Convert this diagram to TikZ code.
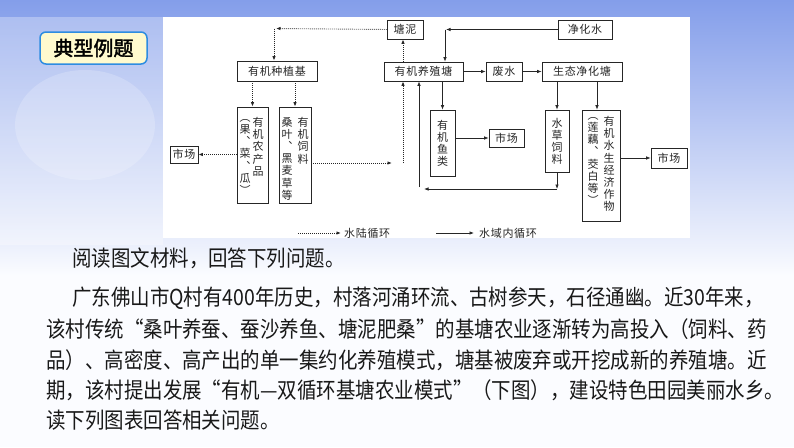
\documentclass[tikz,border=0pt]{standalone}
\usepackage{fontspec}
\usepackage{tikz}
\usetikzlibrary{arrows.meta}
\setmainfont{Noto Sans CJK SC}
\newfontfamily\bodyfont{Noto Sans CJK SC}[FakeStretch=0.885]
\newfontfamily\titlefont{Noto Sans CJK SC}[FakeBold=2]
\newfontfamily\boxfont{Noto Sans CJK SC}[LetterSpace=6]
\definecolor{skyTop}{RGB}{132,158,234}
\definecolor{skyLow}{RGB}{236,240,252}
\definecolor{paperWhite}{RGB}{251,252,255}
\definecolor{titleFill}{RGB}{255,250,206}
\definecolor{titleLine}{RGB}{45,140,225}
\definecolor{inkBlack}{RGB}{25,25,25}

\begin{document}
\begin{tikzpicture}[x=1pt, y=-1pt,
  box/.style={draw=black!85, line width=0.7pt, inner sep=0pt, align=center, font=\boxfont\fontsize{11}{12}\selectfont, text=black!85},
  vcol/.style={inner sep=0pt, align=center, anchor=north, font=\fontsize{11}{12.2}\selectfont, text=black!85},
  sarr/.style={-{Latex[length=4.5pt,width=3.5pt]}, line width=0.7pt, black!85},
  darr/.style={-{Latex[length=4.5pt,width=3.5pt]}, line width=0.9pt, dash pattern=on 0.9pt off 1.1pt, black!85},
  lab/.style={inner sep=0pt, anchor=west, font=\boxfont\fontsize{11}{12}\selectfont, text=black!85},
  txt/.style={inner sep=0pt, anchor=west, font=\bodyfont\fontsize{22}{26}\selectfont, text=inkBlack},
  titlebox/.style={draw=titleLine, line width=1.5pt, fill=titleFill, rounded corners=6pt, minimum width=107, minimum height=32, font=\titlefont\fontsize{20}{24}\selectfont}
]
  \useasboundingbox (0,0) rectangle (794,447);
  % background
  \fill[paperWhite] (0,0) rectangle (794,447);
  \shade[top color=skyTop, bottom color=skyLow] (0,0) rectangle (794,245);
  \shade[top color=skyLow, bottom color=paperWhite] (0,245) rectangle (794,275);
  \fill[white, opacity=0.3] (0,17) rectangle (163,245);
  \fill[white, opacity=0.2] (85,125) ellipse [x radius=70pt, y radius=55pt];
  \fill[white] (163,17) rectangle (690,238);

  \node[titlebox] (T) at (93.5,48) {典型例题};

  % top row
  \node[box, minimum width=36, minimum height=19] (TN) at (405,29.5) {塘泥};
  \node[box, minimum width=54, minimum height=19] (JH) at (585,29.5) {净化水};
  \node[box, minimum width=80, minimum height=20] (ZZ) at (277,71) {有机种植基};
  \node[box, minimum width=79, minimum height=19] (YZ) at (423.5,71.5) {有机养殖塘};
  \node[box, minimum width=36, minimum height=19] (FS) at (504,71.5) {废水};
  \node[box, minimum width=80, minimum height=19] (ST) at (582,71.5) {生态净化塘};

  % lower row: vertical labels
  \node[box, minimum width=31, minimum height=96] (NC) at (252.5,155) {};
  \node[vcol] at (258,117) {有\\机\\农\\产\\品};
  \node[vcol] at (245,119) {︵\\果\\︑\\菜\\︑\\瓜\\︶};
  \node[box, minimum width=32, minimum height=96] (SL) at (295,155) {};
  \node[vcol] at (303,117) {有\\机\\饲\\料};
  \node[vcol] at (287,117) {桑\\叶\\︑\\黑\\麦\\草\\等};
  \node[box, minimum width=28, minimum height=17] (SC1) at (184,154.5) {市场};
  \node[box, minimum width=25, minimum height=66] (YL) at (442.5,143) {有\\机\\鱼\\类};
  \node[box, minimum width=35, minimum height=18] (SC2) at (506.5,138) {市场};
  \node[box, minimum width=24, minimum height=62] (SCL) at (557,141) {水\\草\\饲\\料};
  \node[box, minimum width=38, minimum height=111] (SS) at (601,165.5) {};
  \node[vcol] at (609,116) {有\\机\\水\\生\\经\\济\\作\\物};
  \node[vcol] at (593,117) {︵\\莲\\藕\\︑\\茭\\白\\等\\︶};
  \node[box, minimum width=36, minimum height=20] (SC3) at (669,158) {市场};

  % dotted: land-water cycle
  \coordinate (a1) at (276,28.5);
  \coordinate (a2) at (274,28.5);
  \coordinate (a3) at (392,163);
  \coordinate (a4) at (403,163);
  \draw[darr] (TN.west) -- (a1);
  \draw[darr] (a2) -- (a2 |- ZZ.north);
  \draw[darr] (NC.north |- ZZ.south) -- (NC.north);
  \draw[darr] (SL.north |- ZZ.south) -- (SL.north);
  \draw[darr] (NC.west |- SC1) -- (SC1.east);
  \draw[darr] (SL.east |- a3) -- (a3);
  \draw[darr] (a4) -- (a4 |- YZ.south);
  \draw[darr] (a4 |- YZ.north) -- (a4 |- TN.south);

  % solid: in-water cycle
  \coordinate (b1) at (446,29.5);
  \coordinate (b2) at (445,29.5);
  \coordinate (b4) at (557,189);
  \coordinate (b5) at (424,189);
  \coordinate (b6) at (419,187);
  \draw[sarr] (JH.west) -- (b1);
  \draw[sarr] (b2) -- (b2 |- YZ.north);
  \draw[sarr] (YZ) -- (FS);
  \draw[sarr] (FS) -- (ST);
  \draw[sarr] (YL.north |- YZ.south) -- (YL.north);
  \draw[sarr] (YL.east |- SC2) -- (SC2.west);
  \draw[sarr] (SCL.north |- ST.south) -- (SCL.north);
  \draw[sarr] ([xshift=-4pt]SS.north |- ST.south) -- ([xshift=-4pt]SS.north);
  \draw[sarr] (SCL.south) -- (b4);
  \draw[sarr] (b4) -- (b5);
  \draw[sarr] (b6) -- (b6 |- YZ.south);
  \draw[sarr] (SS.east |- SC3) -- (SC3.west);

  % legend
  \node[lab] (LD) at (344,233) {水陆循环};
  \node[lab] (LS) at (479,233) {水域内循环};
  \coordinate (l1) at (298,233);
  \coordinate (l2) at (436,233);
  \draw[darr] (l1) -- ([xshift=-3pt]LD.west);
  \draw[sarr] (l2) -- ([xshift=-5pt]LS.west);

  % reading text
  \node[txt] (P1) at (72,258) {阅读图文材料，回答下列问题。};
  \node[txt] (P2) at (72,298) {广东佛山市Q村有400年历史，村落河涌环流、古树参天，石径通幽。近30年来，};
  \node[txt] (P3) at (46,329) {该村传统“桑叶养蚕、蚕沙养鱼、塘泥肥桑”的基塘农业逐渐转为高投入（饲料、药};
  \node[txt] (P4) at (46,360) {品）、高密度、高产出的单一集约化养殖模式，塘基被废弃或开挖成新的养殖塘。近};
  \node[txt] (P5) at (46,390) {期，该村提出发展“有机—双循环基塘农业模式”（下图），建设特色田园美丽水乡。};
  \node[txt] (P6) at (46,420) {读下列图表回答相关问题。};
\end{tikzpicture}
\end{document}
